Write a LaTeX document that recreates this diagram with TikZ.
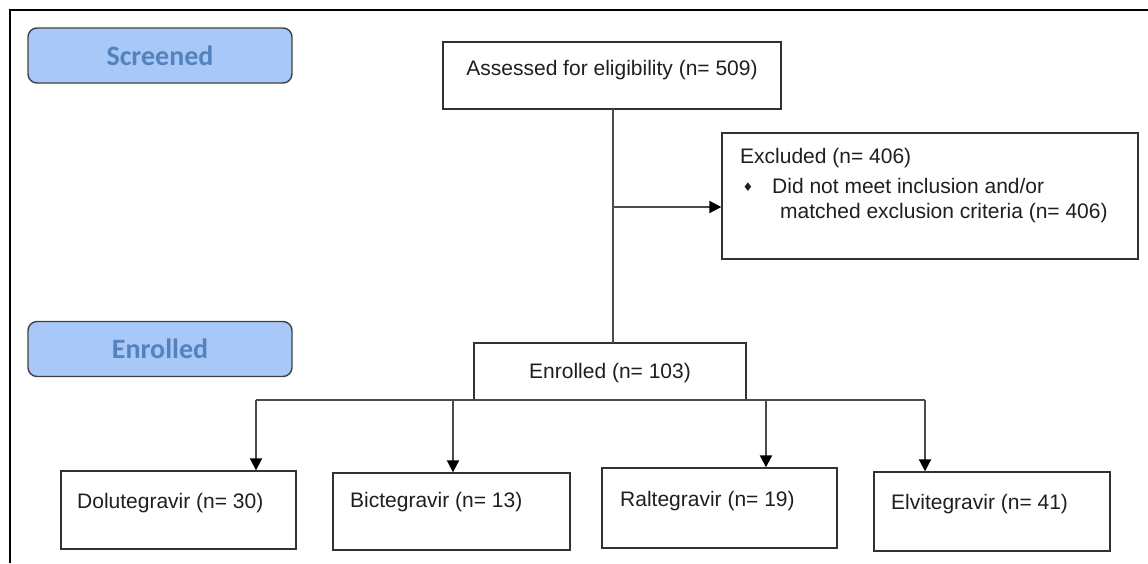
\documentclass[tikz,border=0pt]{standalone}
\usepackage{fontspec}
\setmainfont{Liberation Sans}
\newfontfamily\labelfont{Carlito}
\newfontfamily\symfont{DejaVu Sans}
\usetikzlibrary{arrows.meta}
\definecolor{lblfill}{RGB}{168,200,247}
\definecolor{lbltext}{RGB}{84,130,190}
\definecolor{lineg}{RGB}{75,75,75}
\definecolor{boxc}{RGB}{50,50,50}
\begin{document}
\begin{tikzpicture}[x=1pt,y=-1pt,
  box/.style={draw=boxc, line width=1.4pt, fill=white, inner sep=0pt},
  txt/.style={font=\fontsize{21}{25}\selectfont, text=black!88, inner sep=0pt},
  lbl/.style={draw=black!75, line width=1.4pt, rounded corners=9pt, fill=lblfill,
    minimum width=264pt, minimum height=55pt,
    font=\labelfont\bfseries\fontsize{28}{32}\selectfont, text=lbltext},
  conn/.style={draw=lineg, line width=2pt},
  arr/.style={conn, -{Triangle[width=12pt,length=12pt,color=black,fill=black]}}
]
\useasboundingbox (0,0) rectangle (1148,563);
\draw[line width=2.5pt] (10,563) -- (10,10) -- (1148,10);

% side labels
\node[lbl] (scr) at (160,55.5) {Screened};
\node[lbl] (enl) at (160,349) {Enrolled};

% assessed
\node[box, minimum width=338pt, minimum height=67pt] (ass) at (612,75.5) {};
\node[txt] (asst) at (612,70) {Assessed for eligibility (n= 509)};

% excluded
\node[box, minimum width=416pt, minimum height=126pt] (exc) at (930,196) {};
\node[txt, anchor=west] (exct1) at (740,158) {Excluded (n= 406)};
\node[inner sep=0pt, font=\symfont\fontsize{12}{12}\selectfont, text=black!88] (bul) at (748,187) {♦};
\node[txt, anchor=west] (exct2) at (772,186) {Did not meet inclusion and/or};
\node[txt, anchor=west] (exct3) at (780,213) {matched exclusion criteria (n= 406)};

% enrolled
\node[box, minimum width=272pt, minimum height=57pt] (enr) at (610,371.5) {};
\node[txt] (enrt) at (610,373) {Enrolled (n= 103)};

% arms
\node[box, minimum width=235pt, minimum height=78pt] (dolu) at (178.5,510) {};
\node[txt, anchor=west] (dolut) at (77,503) {Dolutegravir (n= 30)};
\node[box, minimum width=237pt, minimum height=77pt] (bict) at (451.5,511.5) {};
\node[txt, anchor=west] (bictt) at (350,502) {Bictegravir (n= 13)};
\node[box, minimum width=235pt, minimum height=80pt] (ralt) at (719.5,508) {};
\node[txt, anchor=west] (raltt) at (620,501) {Raltegravir (n= 19)};
\node[box, minimum width=236pt, minimum height=79pt] (elvi) at (992,511.5) {};
\node[txt, anchor=west] (elvit) at (891,504) {Elvitegravir (n= 41)};

% connectors
\draw[conn] (613,109) -- (613,343);
\coordinate (jx) at (613,207);
\draw[arr] (jx) -- (jx -| exc.west);

\coordinate (b1) at (256,400);
\coordinate (b2) at (453,400);
\coordinate (b3) at (766,400);
\coordinate (b4) at (925,400);
\draw[conn] (b1) -- (b4);
\draw[arr] (b1) -- (b1 |- dolu.north);
\draw[arr] (b2) -- (b2 |- bict.north);
\draw[arr] (b3) -- (b3 |- ralt.north);
\draw[arr] (b4) -- (b4 |- elvi.north);
\end{tikzpicture}
\end{document}
